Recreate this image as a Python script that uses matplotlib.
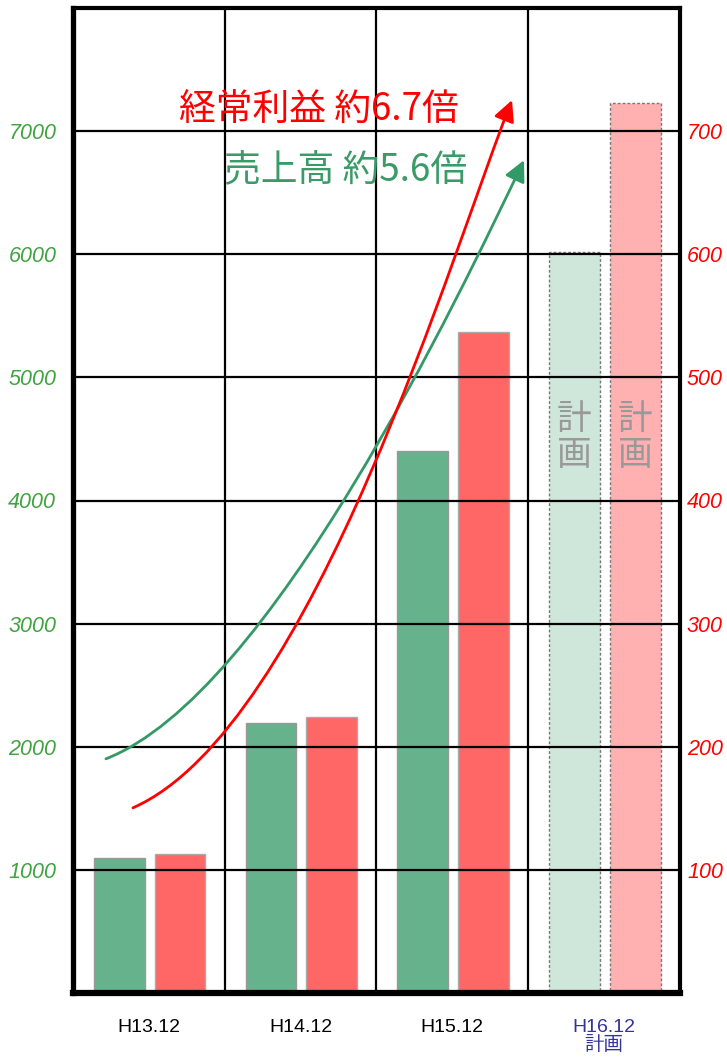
import matplotlib
matplotlib.use('Agg')
import matplotlib.pyplot as plt
from matplotlib.path import Path
from matplotlib.patches import FancyArrowPatch

plt.rcParams['font.family'] = ['Noto Sans CJK JP', 'DejaVu Sans']

# data
categories = ['H13.12', 'H14.12', 'H15.12', 'H16.12\n計画']
sales = [1100, 2190, 4400, 6020]        # 売上高 (left axis)
profit = [113, 224, 537, 723]           # 経常利益 (right axis)
is_plan = [False, False, False, True]
left_ticks = [1000, 2000, 3000, 4000, 5000, 6000, 7000]
right_ticks = [100, 200, 300, 400, 500, 600, 700]

# growth arrows (cubic bezier control points, left axis units)
sales_arrow = [(-0.283, 1902), (0.80, 2420), (2.047, 5667), (2.472, 6764)]
profit_arrow = [(-0.105, 1504), (1.081, 2146), (2.024, 6122), (2.393, 7252)]

green = '#66b28c'
green_plan = '#cfe6da'
red = '#ff6666'
red_plan = '#ffb0b0'
green_txt = '#3a9a68'
tick_green = '#3fa33f'

fig = plt.figure(figsize=(7.27, 10.59), dpi=100)
ax = fig.add_axes([73 / 727, 66 / 1059, 607 / 727, 985 / 1059])
ax2 = ax.twinx()

x = list(range(len(categories)))
w = 0.335
for i in x:
    if is_plan[i]:
        ax.bar(i - 0.195, sales[i], w, color=green_plan, edgecolor='#777777', lw=1, ls=(0, (2, 1.5)))
        ax2.bar(i + 0.205, profit[i], w, color=red_plan, edgecolor='#777777', lw=1, ls=(0, (2, 1.5)))
        for dx in (-0.195, 0.205):
            ax2.text(i + dx, 4510 / 10, '計\n画', ha='center', va='center', fontsize=25,
                     color='#999999', linespacing=1.05, zorder=6)
    else:
        ax.bar(i - 0.195, sales[i], w, color=green, edgecolor='#999999', lw=1)
        ax2.bar(i + 0.205, profit[i], w, color=red, edgecolor='#aaaaaa', lw=1)

ax.set_xlim(-0.5, 3.5)
ax.set_ylim(0, 8000)
ax2.set_ylim(0, 800)

# grid drawn on the top axes so it sits over the bars
ax2.set_axisbelow(False)
for v in right_ticks:
    ax2.axhline(v, color='black', lw=1.6, zorder=3)
for v in [0.5, 1.5, 2.5]:
    ax2.axvline(v, color='black', lw=1.6, zorder=3)

ax.set_yticks(left_ticks)
ax.set_yticklabels([str(t) for t in left_ticks], color=tick_green, fontsize=15.5,
                   style='italic', family=['Liberation Sans', 'DejaVu Sans'])
ax2.set_yticks(right_ticks)
ax2.set_yticklabels([str(t) for t in right_ticks], color='#ff0000', fontsize=15.5,
                    style='italic', family=['Liberation Sans', 'DejaVu Sans'])
ax.tick_params(axis='y', length=0, pad=12)
ax2.tick_params(axis='y', length=0, pad=5)

ax.set_xticks(x)
ax.set_xticklabels(categories, fontsize=14, family=['Liberation Sans', 'Noto Sans CJK JP'],
                   linespacing=0.95, va='top')
ax.tick_params(axis='x', length=0, pad=19)
ax.get_xticklabels()[3].set_color('#333399')

for s in ax.spines.values():
    s.set_visible(False)
ax2.spines['left'].set_linewidth(3.8)
ax2.spines['bottom'].set_linewidth(4.5)
ax2.spines['right'].set_linewidth(3)
ax2.spines['top'].set_linewidth(3)
for s in ax2.spines.values():
    s.set_zorder(7)

# growth arrows
codes = [Path.MOVETO, Path.CURVE4, Path.CURVE4, Path.CURVE4]
for pts, col in [(sales_arrow, '#339966'), (profit_arrow, '#ff0000')]:
    arr = FancyArrowPatch(path=Path(pts, codes), arrowstyle='-|>,head_length=0.9,head_width=0.45',
                          mutation_scale=14, color=col, lw=2, transform=ax.transData, zorder=5)
    ax2.add_patch(arr)

ax2.text(1.12, 7170, '経常利益 約6.7倍', transform=ax.transData, ha='center', va='center',
         fontsize=26.5, color='#ff0000', zorder=6)
ax2.text(1.299, 6680, '売上高 約5.6倍', transform=ax.transData, ha='center', va='center',
         fontsize=26.5, color=green_txt, zorder=6)

fig.savefig('out.png', dpi=100)
